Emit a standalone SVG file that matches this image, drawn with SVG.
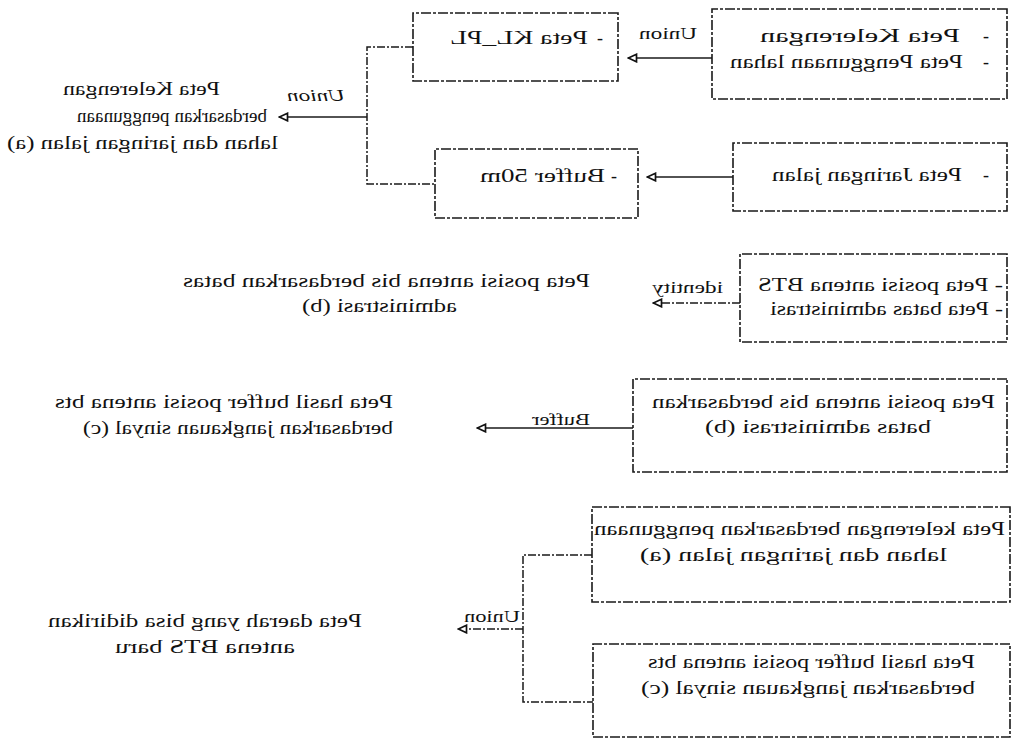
<svg xmlns="http://www.w3.org/2000/svg" width="1017" height="743" viewBox="0 0 1017 743">
  <style>
    .box { fill: #fff; stroke: #1a1a1a; stroke-width: 1.6; stroke-dasharray: 10 2 3 2; }
    .link { fill: none; stroke: #1a1a1a; stroke-width: 1.5; }
    .dash { stroke-dasharray: 8 2 2 2; }
    text { font-family: "Liberation Serif", "Times New Roman", serif; font-size: 18px; fill: #111; }
    .lbl { font-size: 17px; }
    .it { font-style: italic; }
  </style>
  <defs>
    <marker id="arr" viewBox="0 0 10 10" refX="9.5" refY="5" markerWidth="11" markerHeight="10" markerUnits="userSpaceOnUse" orient="auto">
      <path d="M1,1.2 L9.2,5 L1,8.8 z" fill="#fff" stroke="#111" stroke-width="1.7"/>
    </marker>
  </defs>
  <rect width="1017" height="743" fill="#fff"/>

  <!-- the whole flow is drawn left-to-right and then flipped horizontally -->
  <g transform="matrix(-1 0 0 1 1017 0)">

    <g id="connectors">
      <!-- slope + land use -> KL_PL -->
      <line class="link" x1="305" y1="58" x2="389" y2="58" marker-end="url(#arr)"/>
      <!-- road network -> buffer 50m -->
      <line class="link" x1="284" y1="177" x2="370" y2="177" marker-end="url(#arr)"/>
      <!-- union of KL_PL and buffer -->
      <path class="link dash" d="M604,47 H650 V184 H582"/>
      <line class="link" x1="650" y1="117" x2="738" y2="117" marker-end="url(#arr)"/>
      <!-- identity -->
      <line class="link dash" x1="277" y1="303" x2="364" y2="303" marker-end="url(#arr)"/>
      <!-- buffer -->
      <line class="link" x1="384" y1="428" x2="540" y2="428" marker-end="url(#arr)"/>
      <!-- final union -->
      <path class="link dash" d="M425,555 H494 V702 H424"/>
      <line class="link dash" x1="494" y1="629" x2="559" y2="629" marker-end="url(#arr)"/>

      <text class="lbl" x="320" y="39" textLength="58" lengthAdjust="spacingAndGlyphs">Union</text>
      <text class="lbl it" x="672" y="101" textLength="58" lengthAdjust="spacingAndGlyphs">Union</text>
      <text class="lbl" x="294" y="293" textLength="71" lengthAdjust="spacingAndGlyphs">identity</text>
      <text class="lbl" x="427" y="425" textLength="58" lengthAdjust="spacingAndGlyphs">Buffer</text>
      <text class="lbl" x="497" y="622" textLength="56" lengthAdjust="spacingAndGlyphs">Union</text>
    </g>

    <g id="input-slope-landuse">
      <rect class="box" x="10" y="9" width="295" height="90"/>
      <text x="28" y="42">-</text>
      <text x="57" y="42" textLength="200" lengthAdjust="spacingAndGlyphs">Peta Kelerengan</text>
      <text x="28" y="68">-</text>
      <text x="54" y="68" textLength="233" lengthAdjust="spacingAndGlyphs">Peta Penggunaan lahan</text>
    </g>

    <g id="kl-pl">
      <rect class="box" x="399" y="13" width="205" height="68"/>
      <text x="414" y="44">-</text>
      <text x="429" y="44" textLength="138" lengthAdjust="spacingAndGlyphs">Peta KL_PL</text>
    </g>

    <g id="input-roads">
      <rect class="box" x="10" y="143" width="274" height="68"/>
      <text x="28" y="181">-</text>
      <text x="55" y="181" textLength="190" lengthAdjust="spacingAndGlyphs">Peta Jaringan jalan</text>
    </g>

    <g id="buffer-50m">
      <rect class="box" x="379" y="149" width="203" height="69"/>
      <text x="400" y="182">-</text>
      <text x="412" y="182" textLength="125" lengthAdjust="spacingAndGlyphs">Buffer 50m</text>
    </g>

    <g id="result-a">
      <text x="797" y="95" textLength="157" lengthAdjust="spacingAndGlyphs">Peta Kelerengan</text>
      <text x="750" y="122" textLength="190" lengthAdjust="spacingAndGlyphs">berdasarkan penggunaan</text>
      <text x="739" y="149" textLength="271" lengthAdjust="spacingAndGlyphs">lahan dan jaringan jalan (a)</text>
    </g>

    <g id="input-bts-admin">
      <rect class="box" x="10" y="254" width="267" height="88"/>
      <text x="14" y="291" textLength="245" lengthAdjust="spacingAndGlyphs">- Peta posisi antena BTS</text>
      <text x="14" y="315" textLength="233" lengthAdjust="spacingAndGlyphs">- Peta batas administrasi</text>
    </g>

    <g id="result-b">
      <text x="427" y="287" textLength="407" lengthAdjust="spacingAndGlyphs">Peta posisi antena bis berdasarkan batas</text>
      <text x="560" y="312" textLength="155" lengthAdjust="spacingAndGlyphs">administrasi (b)</text>
    </g>

    <g id="input-b">
      <rect class="box" x="10" y="379" width="374" height="93"/>
      <text x="22" y="408" textLength="343" lengthAdjust="spacingAndGlyphs">Peta posisi antena bis berdasarkan</text>
      <text x="86" y="433" textLength="226" lengthAdjust="spacingAndGlyphs">batas administrasi (b)</text>
    </g>

    <g id="result-c">
      <text x="624" y="408" textLength="338" lengthAdjust="spacingAndGlyphs">Peta hasil buffer posisi antena bts</text>
      <text x="624" y="434" textLength="310" lengthAdjust="spacingAndGlyphs">berdasarkan jangkauan sinyal (c)</text>
    </g>

    <g id="input-a">
      <rect class="box" x="7" y="507" width="418" height="95"/>
      <text x="12" y="535" textLength="411" lengthAdjust="spacingAndGlyphs">Peta kelerengan berdasarkan penggunaan</text>
      <text x="70" y="561" textLength="307" lengthAdjust="spacingAndGlyphs">lahan dan jaringan jalan (a)</text>
    </g>

    <g id="input-c">
      <rect class="box" x="7" y="644" width="417" height="93"/>
      <text x="42" y="668" textLength="327" lengthAdjust="spacingAndGlyphs">Peta hasil buffer posisi antena bts</text>
      <text x="42" y="694" textLength="334" lengthAdjust="spacingAndGlyphs">berdasarkan jangkauan sinyal (c)</text>
    </g>

    <g id="result-final">
      <text x="655" y="627" textLength="314" lengthAdjust="spacingAndGlyphs">Peta daerah yang bisa didirikan</text>
      <text x="722" y="653" textLength="180" lengthAdjust="spacingAndGlyphs">antena BTS baru</text>
    </g>
  </g>
</svg>
